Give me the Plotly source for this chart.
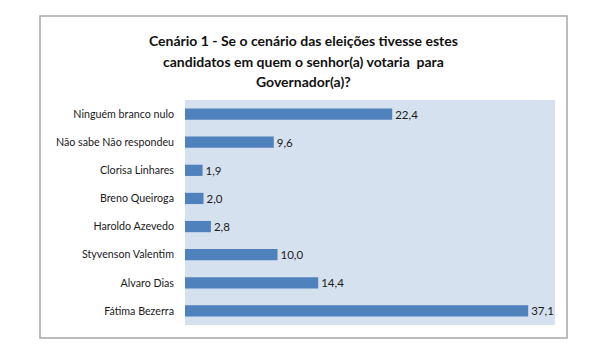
import plotly.graph_objects as go

categories = ["Fátima Bezerra", "Alvaro Dias", "Styvenson Valentim", "Haroldo Azevedo",
              "Breno Queiroga", "Clorisa Linhares", "Não sabe Não respondeu", "Ninguém branco nulo"]
values = [37.1, 14.4, 10.0, 2.8, 2.0, 1.9, 9.6, 22.4]
title_lines = ["Cenário 1 - Se o cenário das eleições tivesse estes",
               "candidatos em quem o senhor(a) votaria  para",
               "Governador(a)?"]

FONT = "Lato, Open Sans, sans-serif"
OFF = 8  # page body margin
W, H = 604 - OFF, 358 - OFF
L, R, T, B = 185 - OFF, 555 - OFF, 100 - OFF, 325 - OFF
PH = B - T
PW = R - L

fig = go.Figure(go.Bar(
    y=categories, x=values, orientation="h",
    marker=dict(color="#4F81BD", line=dict(width=0)),
    width=0.4,
    texttemplate="%{x:.1f}", textposition="outside",
    constraintext="none",
    textfont=dict(family=FONT, size=11.5, color="#1a1a1a"),
    cliponaxis=False,
))

annotations = []
for i, line in enumerate(title_lines):
    ypix = 40 + 21 * i - OFF
    annotations.append(dict(text="<b>%s</b>" % line, xref="paper", yref="paper",
                            x=(303 - OFF - L) / PW, y=(B - ypix) / PH,
                            xanchor="center", yanchor="middle", showarrow=False,
                            font=dict(family=FONT, size=14, color="#111111")))

fig.update_layout(
    width=W, height=H,
    margin=dict(l=L, r=W - R, t=T, b=H - B, autoexpand=False),
    paper_bgcolor="white", plot_bgcolor="#d6e1f0",
    separators=",.",
    showlegend=False,
    annotations=annotations,
    xaxis=dict(range=[0, 40], showticklabels=False, showgrid=False, zeroline=False,
               showline=False, ticks="", automargin=False),
    yaxis=dict(showgrid=False, zeroline=False, showline=False, ticks="", ticklen=0,
               ticklabelstandoff=10, automargin=False,
               tickfont=dict(family=FONT, size=10.7, color="#1a1a1a")),
    shapes=[dict(type="rect", xref="paper", yref="paper",
                 x0=(40 - OFF - L) / PW, x1=(567 - OFF - L) / PW,
                 y0=(B - (338 - OFF)) / PH, y1=(B - (16 - OFF)) / PH,
                 line=dict(color="#a8a8a8", width=1.5), fillcolor="rgba(0,0,0,0)", layer="below")],
)

fig.write_html("out.html")
